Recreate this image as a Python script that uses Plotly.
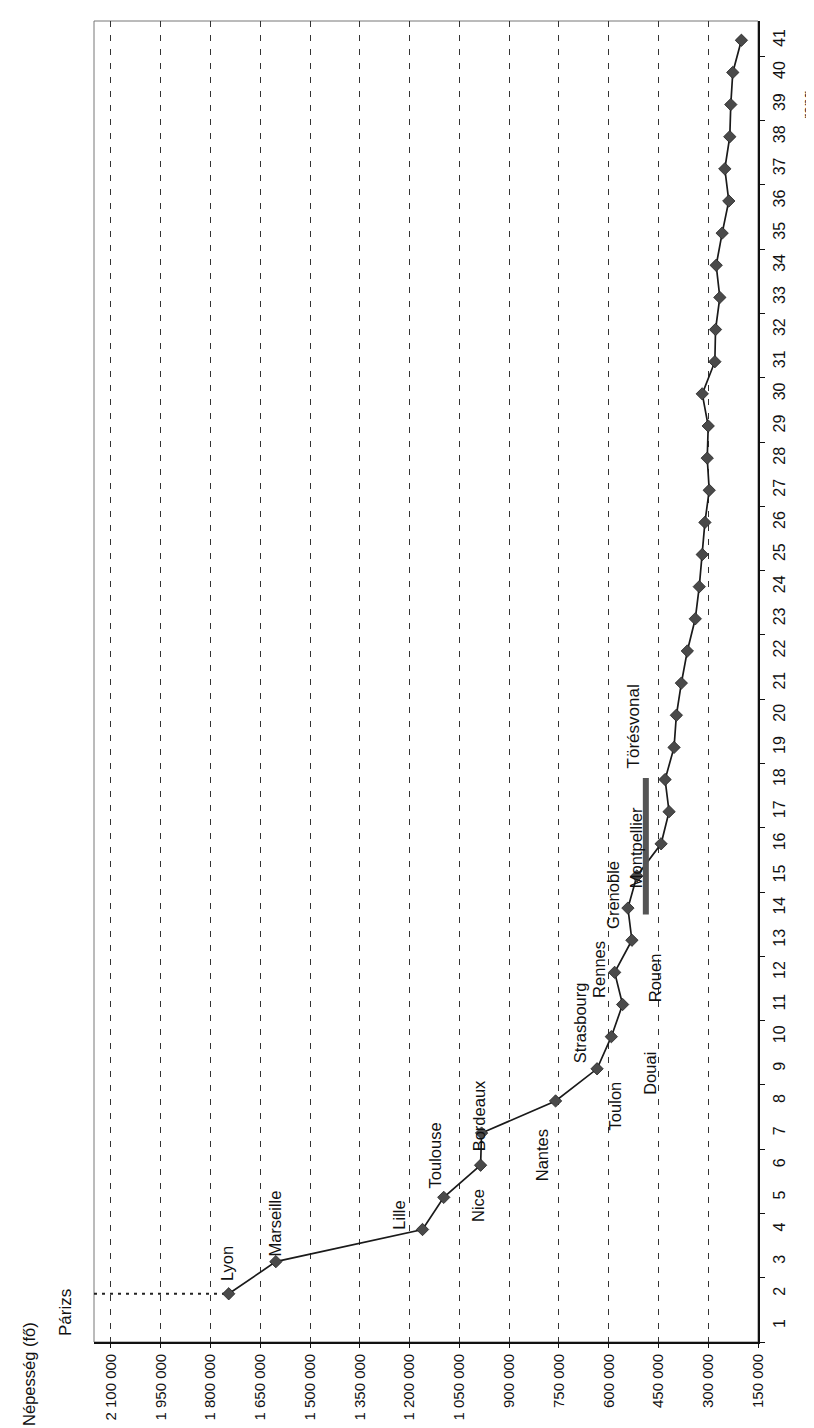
import plotly.graph_objects as go

# ---- data ----
RANKS = list(range(2, 42))
POPULATION = [1745000, 1603000, 1161000, 1097000, 986000, 983000, 760000, 635000, 592000, 558000,
              582000, 530000, 542000, 515000, 442000, 418000, 430000, 403000, 396000, 381000,
              363000, 339000, 327000, 318000, 310000, 297000, 303000, 300000, 318000, 280000,
              278000, 265000, 276000, 258000, 238000, 250000, 235000, 232000, 226000, 200000]

CITY_NAMES = ["Lyon", "Marseille", "Lille", "Toulouse", "Nice", "Bordeaux", "Nantes",
              "Strasbourg", "Toulon", "Douai", "Rennes", "Rouen", "Grenoble", "Montpellier"]
CITY_LABEL_POP = [1750000, 1604000, 1233000, 1125000, 994000, 990000, 800000,
                  686000, 580000, 476000, 630000, 460000, 585000, 517000]
CITY_LABEL_RANK = [2.93, 4.17, 4.45, 6.32, 4.76, 7.53, 6.32,
                   10.42, 7.84, 8.87, 12.1, 11.82, 14.4, 15.87]

POP_TICKS = [2100000, 1950000, 1800000, 1650000, 1500000, 1350000, 1200000,
             1050000, 900000, 750000, 600000, 450000, 300000, 150000]
POP_TICK_TEXT = ["2 100 000", "1 950 000", "1 800 000", "1 650 000", "1 500 000", "1 350 000",
                 "1 200 000", "1 050 000", "900 000", "750 000", "600 000", "450 000",
                 "300 000", "150 000"]
RANK_TICKS = list(range(1, 42))

PARIS_RANK = 2
BREAK_LABEL = "Törésvonal"
BREAK_POP = 488000
BREAK_RANKS = [13.8, 18.05]
BREAK_LABEL_POS = [526000, 19.66]

X_RANGE = [2151000, 150000]
Y_RANGE = [0.5, 41.6]

FONT = "Liberation Sans, Arial, sans-serif"
NARROW = "Liberation Sans Narrow, Arial Narrow, Liberation Sans, sans-serif"

fig = go.Figure()

# Paris dotted reference line (from the left frame to Lyon)
fig.add_trace(go.Scatter(
    x=[X_RANGE[0], POPULATION[0]], y=[PARIS_RANK, PARIS_RANK],
    mode="lines", line=dict(color="#222", width=2, dash="3px,5px"),
    hoverinfo="skip", showlegend=False))

# main series
fig.add_trace(go.Scatter(
    x=POPULATION, y=RANKS, mode="lines+markers",
    line=dict(color="#1a1a1a", width=1.7),
    marker=dict(symbol="diamond", size=9.5, color="#4a4a4a",
                line=dict(color="#222", width=0.8)),
    showlegend=False))

# break line (Törésvonal)
fig.add_shape(type="line", xref="x", yref="y",
              x0=BREAK_POP, x1=BREAK_POP, y0=BREAK_RANKS[0], y1=BREAK_RANKS[1],
              line=dict(color="#555", width=6))

# light frame (top and left)
fig.add_shape(type="rect", xref="paper", yref="paper", x0=0, x1=1, y0=0, y1=1,
              line=dict(color="#777", width=1), layer="below")

def label(x, y, text, size, xref="x", yref="y"):
    return dict(x=x, y=y, xref=xref, yref=yref, text=text, textangle=-90,
                showarrow=False, xanchor="center", yanchor="middle", borderpad=0,
                font=dict(family=FONT, size=size, color="#111"))

annotations = [label(px, ry, name, 16.5)
               for name, px, ry in zip(CITY_NAMES, CITY_LABEL_POP, CITY_LABEL_RANK)]
annotations.append(label(BREAK_LABEL_POS[0], BREAK_LABEL_POS[1], BREAK_LABEL, 17))
annotations.append(label(-0.0437, 0.0227, "Párizs", 17, "paper", "paper"))
annotations.append(label(-0.097, -0.0245, "Népesség (fő)", 16.5, "paper", "paper"))
annotations.append(label(1.074, 39.0, "rang", 14, "paper", "y"))

fig.update_layout(
    width=814, height=1428,
    margin=dict(l=86, r=64, t=13, b=94),
    paper_bgcolor="white", plot_bgcolor="white",
    annotations=annotations,
    xaxis=dict(range=X_RANGE, tickvals=POP_TICKS, ticktext=POP_TICK_TEXT, tickangle=-90,
               tickfont=dict(family=FONT, size=15, color="#111"),
               showgrid=True, gridcolor="#333", gridwidth=1, griddash="6px,8px",
               zeroline=False, showline=True, linecolor="#111", linewidth=1.6,
               ticks="outside", ticklen=4, tickcolor="#111"),
    yaxis=dict(range=Y_RANGE, side="right", tickvals=RANK_TICKS, tickangle=-90,
               tickfont=dict(family=NARROW, size=16, color="#111"),
               showgrid=False, zeroline=False, showline=True, linecolor="#111",
               linewidth=1.6, ticks="", ticklabelstandoff=6,
               minor=dict(tick0=0.5, dtick=2, ticks="outside", ticklen=5,
                          tickcolor="#111", showgrid=False)),
)

fig.write_html("out.html")
